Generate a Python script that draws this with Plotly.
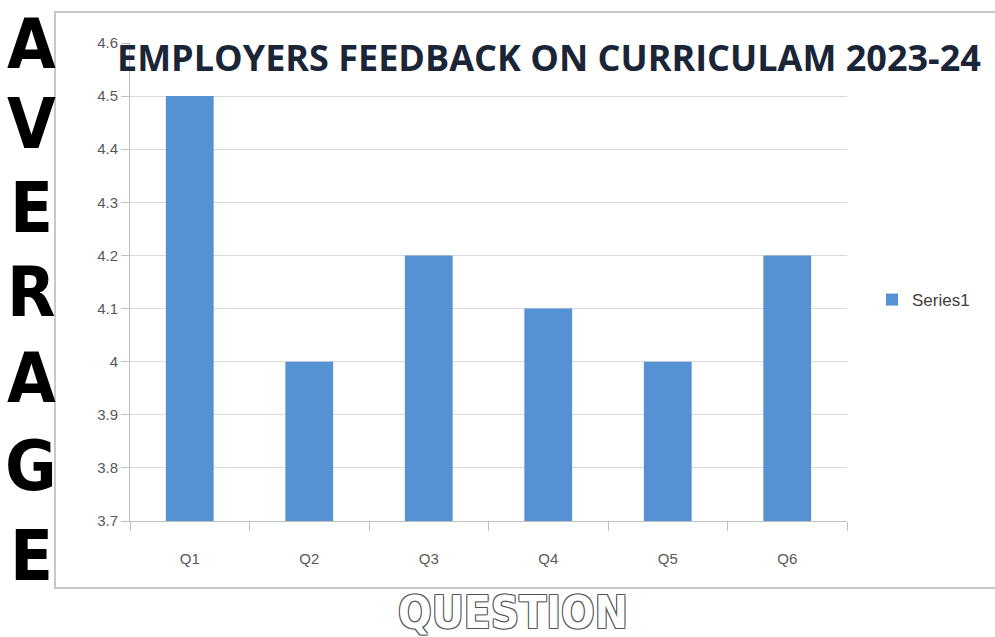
import plotly.graph_objects as go

categories = ["Q1", "Q2", "Q3", "Q4", "Q5", "Q6"]
values = [4.5, 4.0, 4.2, 4.1, 4.0, 4.2]
ytick_vals = [3.7, 3.8, 3.9, 4.0, 4.1, 4.2, 4.3, 4.4, 4.5, 4.6]
ytick_text = ["3.7", "3.8", "3.9", "4", "4.1", "4.2", "4.3", "4.4", "4.5", "4.6"]
title_text = "EMPLOYERS FEEDBACK ON CURRICULAM 2023-24"
side_letters = ["A", "V", "E", "R", "A", "G", "E"]
side_letter_y = [44, 124, 208, 292, 378, 466, 556]
xlabel_text = "QUESTION"

W, H = 995, 637
ml, mr, mt, mb = 130, 148, 43, 116

fig = go.Figure()
fig.add_trace(go.Bar(
    x=categories, y=values, name="Series1",
    marker=dict(color="#5592D3", line=dict(width=0)),
))

def px_to_paper_x(px):
    return (px - ml) / (W - ml - mr)

def px_to_paper_y(py):
    return (H - mb - py) / (H - mt - mb)

fig.update_layout(
    width=W, height=H, autosize=False,
    margin=dict(l=ml, r=mr, t=mt, b=mb),
    paper_bgcolor="white", plot_bgcolor="white",
    bargap=0.6,
    showlegend=True,
    legend=dict(x=px_to_paper_x(872), y=px_to_paper_y(300),
                xanchor="left", yanchor="middle",
                font=dict(family="Liberation Sans, Arial", size=17, color="#404040"),
                itemwidth=30, bgcolor="rgba(0,0,0,0)"),
    font=dict(family="Liberation Sans, Arial", color="#595959"),
)
fig.update_xaxes(
    showline=True, linecolor="#BFBFBF", linewidth=1,
    ticks="outside", tickson="boundaries", ticklen=9, tickcolor="#BFBFBF",
    ticklabelstandoff=24,
    tickfont=dict(size=15, color="#595959"), showgrid=False,
)
fig.update_yaxes(
    range=[3.7, 4.6], tickvals=ytick_vals, ticktext=ytick_text,
    showline=True, linecolor="#BFBFBF", linewidth=1,
    ticks="outside", ticklen=8, tickcolor="#BFBFBF",
    showgrid=True, gridcolor="#D9D9D9", gridwidth=1,
    tickfont=dict(size=15, color="#595959"), zeroline=False,
)

# frame of chart area
fig.add_shape(type="rect", xref="paper", yref="paper",
              x0=px_to_paper_x(55), x1=px_to_paper_x(1000),
              y0=px_to_paper_y(588), y1=px_to_paper_y(12),
              line=dict(color="#C8C8C8", width=2), fillcolor="rgba(0,0,0,0)", layer="below")

# title
fig.add_annotation(text="<b>" + title_text + "</b>", xref="paper", yref="paper",
                   x=px_to_paper_x(549), y=px_to_paper_y(57), xanchor="center", yanchor="middle",
                   showarrow=False,
                   font=dict(family="Open Sans, Noto Sans, sans-serif", size=36, color="#1B2538"))

def letter_font(size, color, extra=None):
    base = dict(family="DejaVu Sans Condensed, Liberation Sans Narrow, DejaVu Sans, sans-serif",
                size=size, color=color)
    if extra:
        base.update(extra)
    try:
        go.layout.annotation.Font(**dict(base, stretch="condensed"))
        base["stretch"] = "condensed"
    except Exception:
        pass
    return base

# side letters
for letter, ly in zip(side_letters, side_letter_y):
    fig.add_annotation(text="<b>" + letter + "</b>", xref="paper", yref="paper",
                       x=px_to_paper_x(31), y=px_to_paper_y(ly), xanchor="center", yanchor="middle",
                       showarrow=False, borderpad=0,
                       font=letter_font(70, "#000000"))

# x axis title (outlined style)
fig.add_annotation(text="<b>" + xlabel_text + "</b>", xref="paper", yref="paper",
                   x=px_to_paper_x(513), y=px_to_paper_y(612), xanchor="center", yanchor="middle",
                   showarrow=False, borderpad=0,
                   font=letter_font(44, "#FFFFFF",
                                    dict(shadow="1px 1px 0 #555, -1px -1px 0 #555, 1px -1px 0 #555, -1px 1px 0 #555")))

fig.write_html("out.html", config={"displayModeBar": False},
               post_script="document.body.style.margin='0';")
